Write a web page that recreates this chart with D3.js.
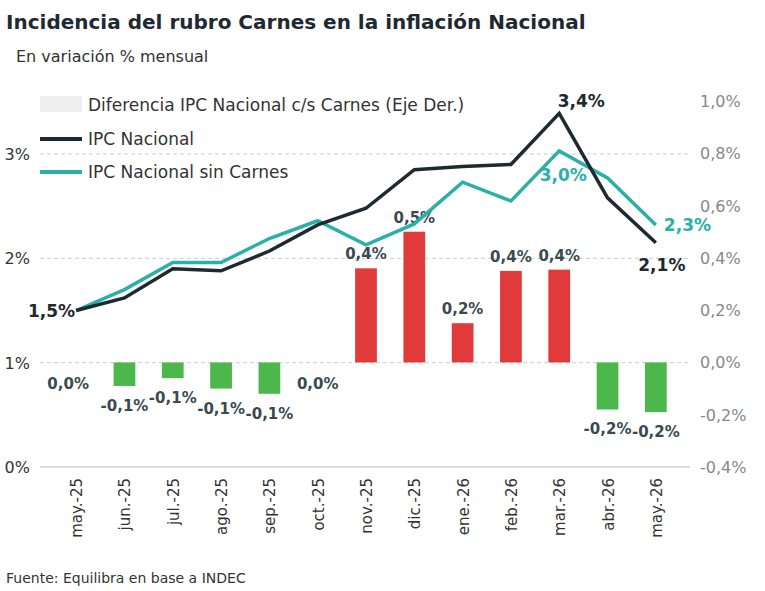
<!DOCTYPE html><html><head><meta charset="utf-8"><script src="https://cdn.jsdelivr.net/npm/d3@7"></script>
<style>body{margin:0;background:#fff}text{font-family:"DejaVu Sans",sans-serif}</style></head><body><svg id="c" width="765" height="591"></svg>
<script>
const categories=["may.-25","jun.-25","jul.-25","ago.-25","sep.-25","oct.-25","nov.-25","dic.-25","ene.-26","feb.-26","mar.-26","abr.-26","may.-26"];
const ipc=[1.5,1.62,1.9,1.88,2.07,2.32,2.48,2.85,2.88,2.9,3.39,2.58,2.15];
const sinCarnes=[1.5,1.7,1.96,1.96,2.19,2.36,2.13,2.33,2.73,2.55,3.03,2.77,2.32];
const diff=[0,-0.09,-0.06,-0.1,-0.12,0,0.36,0.5,0.15,0.35,0.355,-0.18,-0.19];
const diffLabels=["0,0%","-0,1%","-0,1%","-0,1%","-0,1%","0,0%","0,4%","0,5%","0,2%","0,4%","0,4%","-0,2%","-0,2%"];
const leftTicks=[0,1,2,3], rightTicks=[-0.4,-0.2,0,0.2,0.4,0.6,0.8,1.0];
const svg=d3.select("#c");
const x=d3.scaleBand().domain(categories).range([52,680]).paddingInner(0.55).paddingOuter(0.275);
const yL=d3.scaleLinear().domain([0,3]).range([467,154]);
const yR=d3.scaleLinear().domain([-0.4,1.0]).range([467,101]);
const cx=c=>x(c)+x.bandwidth()/2;
svg.append("text").attr("x",6).attr("y",29).attr("font-size",20).attr("font-weight",700).attr("fill","#1e2a30").text("Incidencia del rubro Carnes en la inflación Nacional");
svg.append("text").attr("x",16).attr("y",62).attr("font-size",16).attr("fill","#333").text("En variación % mensual");
svg.append("text").attr("x",6).attr("y",583).attr("font-size",14).attr("fill","#333").text("Fuente: Equilibra en base a INDEC");
svg.append("g").selectAll("line").data([1,2,3]).join("line").attr("x1",40).attr("x2",690).attr("y1",d=>yL(d)).attr("y2",d=>yL(d)).attr("stroke","#ccc").attr("stroke-dasharray","4,3");
svg.append("line").attr("x1",40).attr("x2",690).attr("y1",yL(0)).attr("y2",yL(0)).attr("stroke","#bbb");
svg.append("g").selectAll("text").data(leftTicks).join("text").attr("x",30).attr("y",d=>yL(d)+6).attr("text-anchor","end").attr("font-size",16).attr("fill","#333").text(d=>d+"%");
svg.append("g").selectAll("text").data(rightTicks).join("text").attr("x",700).attr("y",d=>yR(d)+6).attr("font-size",16).attr("fill","#888").text(d=>d.toFixed(1).replace(".",",")+"%");
svg.append("g").selectAll("text").data(categories).join("text").attr("transform",d=>`translate(${cx(d)+6},478) rotate(-90)`).attr("text-anchor","end").attr("font-size",15).attr("fill","#333").text(d=>d);
svg.append("g").selectAll("rect").data(diff).join("rect").attr("x",(d,i)=>x(categories[i])).attr("width",x.bandwidth())
 .attr("y",d=>yR(Math.max(0,d))).attr("height",d=>Math.abs(yR(d)-yR(0))).attr("fill",d=>d>0?"#e03a3a":"#4cb84c");
svg.append("g").selectAll("text").data(diff).join("text").attr("x",(d,i)=>cx(categories[i])+(i==0?-8:0)).attr("text-anchor","middle")
 .attr("y",(d,i)=>d>0?yR(d)-9:(d==0?yR(0)+27:yR(d)+25)).attr("font-size",15).attr("font-weight",700).attr("fill","#3a4a50").text((d,i)=>diffLabels[i]);
const line=d3.line().x((d,i)=>cx(categories[i])).y(d=>yL(d));
svg.append("path").datum(sinCarnes).attr("d",line).attr("fill","none").attr("stroke","#2ab0a8").attr("stroke-width",3.5);
svg.append("path").datum(ipc).attr("d",line).attr("fill","none").attr("stroke","#1e2a30").attr("stroke-width",3.5);
const lab=(t,x0,y0,c,a)=>svg.append("text").attr("x",x0).attr("y",y0).attr("font-size",17).attr("font-weight",700).attr("fill",c).attr("text-anchor",a||"middle").text(t);
lab("1,5%",cx(categories[0])-1,yL(ipc[0])+6,"#1e2a30","end");
lab("3,4%",cx(categories[10])+22,yL(ipc[10])-6,"#1e2a30");
lab("3,0%",cx(categories[10])+4,yL(sinCarnes[10])+30,"#2ab0a8");
lab("2,1%",cx(categories[12])+6,yL(ipc[12])+28,"#1e2a30");
lab("2,3%",cx(categories[12])+8,yL(sinCarnes[12])+6,"#2ab0a8","start");
svg.append("rect").attr("x",40).attr("y",96).attr("width",42).attr("height",16).attr("fill","#eee");
svg.append("text").attr("x",88).attr("y",111).attr("font-size",17).attr("fill","#333").text("Diferencia IPC Nacional c/s Carnes (Eje Der.)");
svg.append("line").attr("x1",40).attr("x2",82).attr("y1",139).attr("y2",139).attr("stroke","#1e2a30").attr("stroke-width",4);
svg.append("text").attr("x",88).attr("y",145).attr("font-size",17).attr("fill","#333").text("IPC Nacional");
svg.append("line").attr("x1",40).attr("x2",82).attr("y1",172).attr("y2",172).attr("stroke","#2ab0a8").attr("stroke-width",4);
svg.append("text").attr("x",88).attr("y",178).attr("font-size",17).attr("fill","#333").text("IPC Nacional sin Carnes");
</script></body></html>
